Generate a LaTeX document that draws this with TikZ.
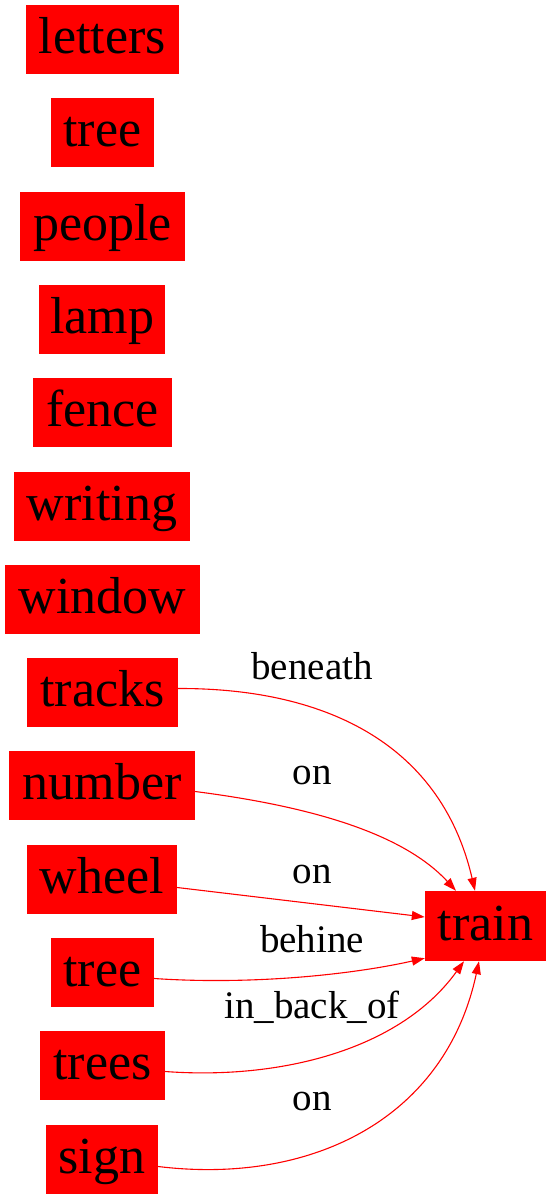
\documentclass[tikz,border=0pt]{standalone}
\usepackage{fontspec}
\setmainfont{Liberation Serif}
\usetikzlibrary{arrows.meta}
\begin{document}
\begin{tikzpicture}[x=1pt,y=-1pt,
  obj/.style={fill=red,draw=none,inner sep=0pt,minimum height=69pt,
    font=\fontsize{52}{60}\selectfont,text height=38pt,text depth=10pt,anchor=center},
  edge/.style={draw=red,line width=1.1pt,-{Triangle[length=13pt,width=9pt]}},
  lbl/.style={font=\fontsize{39}{46}\selectfont,anchor=base,inner sep=0pt}]
\useasboundingbox (0,0) rectangle (552,1200);
\node[obj,minimum width=153pt] (letters) at (102.5,39.5) {letters};
\node[obj,minimum width=103pt] (tree1) at (102.5,132.5) {tree};
\node[obj,minimum width=165pt] (people) at (102.5,226) {people};
\node[obj,minimum width=126pt] (lamp) at (102,319.5) {lamp};
\node[obj,minimum width=139pt] (fence) at (102.5,412.5) {fence};
\node[obj,minimum width=176pt] (writing) at (102,506) {writing};
\node[obj,minimum width=195pt] (window) at (102.5,599.5) {window};
\node[obj,minimum width=151pt] (tracks) at (102.5,692.5) {tracks};
\node[obj,minimum width=186pt] (number) at (102,785.5) {number};
\node[obj,minimum width=150pt] (wheel) at (102,879.5) {wheel};
\node[obj,minimum width=103pt] (tree2) at (102.5,972.5) {tree};
\node[obj,minimum width=125pt] (trees) at (102.5,1065.5) {trees};
\node[obj,minimum width=112pt] (sign) at (102,1159.5) {sign};
\node[obj,minimum width=121pt,minimum height=70pt] (train) at (485.5,926) {train};

\draw[edge] ([yshift=4pt]tracks.east) .. controls (320,688) and (440,740) .. ([xshift=-10.5pt]train.north);
\draw[edge] ([yshift=-6pt]number.east) .. controls (300,805) and (400,830) .. ([xshift=-29.5pt]train.north);
\draw[edge] ([yshift=-8pt]wheel.east) -- ([yshift=9pt]train.west);
\draw[edge] ([yshift=-6pt]tree2.east) .. controls (250,985) and (350,975) .. ([yshift=3pt]train.south west);
\draw[edge] ([yshift=-6pt]trees.east) .. controls (280,1080) and (400,1050) .. ([xshift=-21.5pt]train.south);
\draw[edge] ([yshift=-7pt]sign.east) .. controls (310,1185) and (445,1120) .. ([xshift=-6.5pt]train.south);

\node[lbl] (l1) at (312,679) {beneath};
\node[lbl] (l2) at (312,784) {on};
\node[lbl] (l3) at (312,883) {on};
\node[lbl] (l4) at (312,952) {behine};
\node[lbl] (l5) at (312,1018) {in\_back\_of};
\node[lbl] (l6) at (312,1110) {on};
\end{tikzpicture}
\end{document}
